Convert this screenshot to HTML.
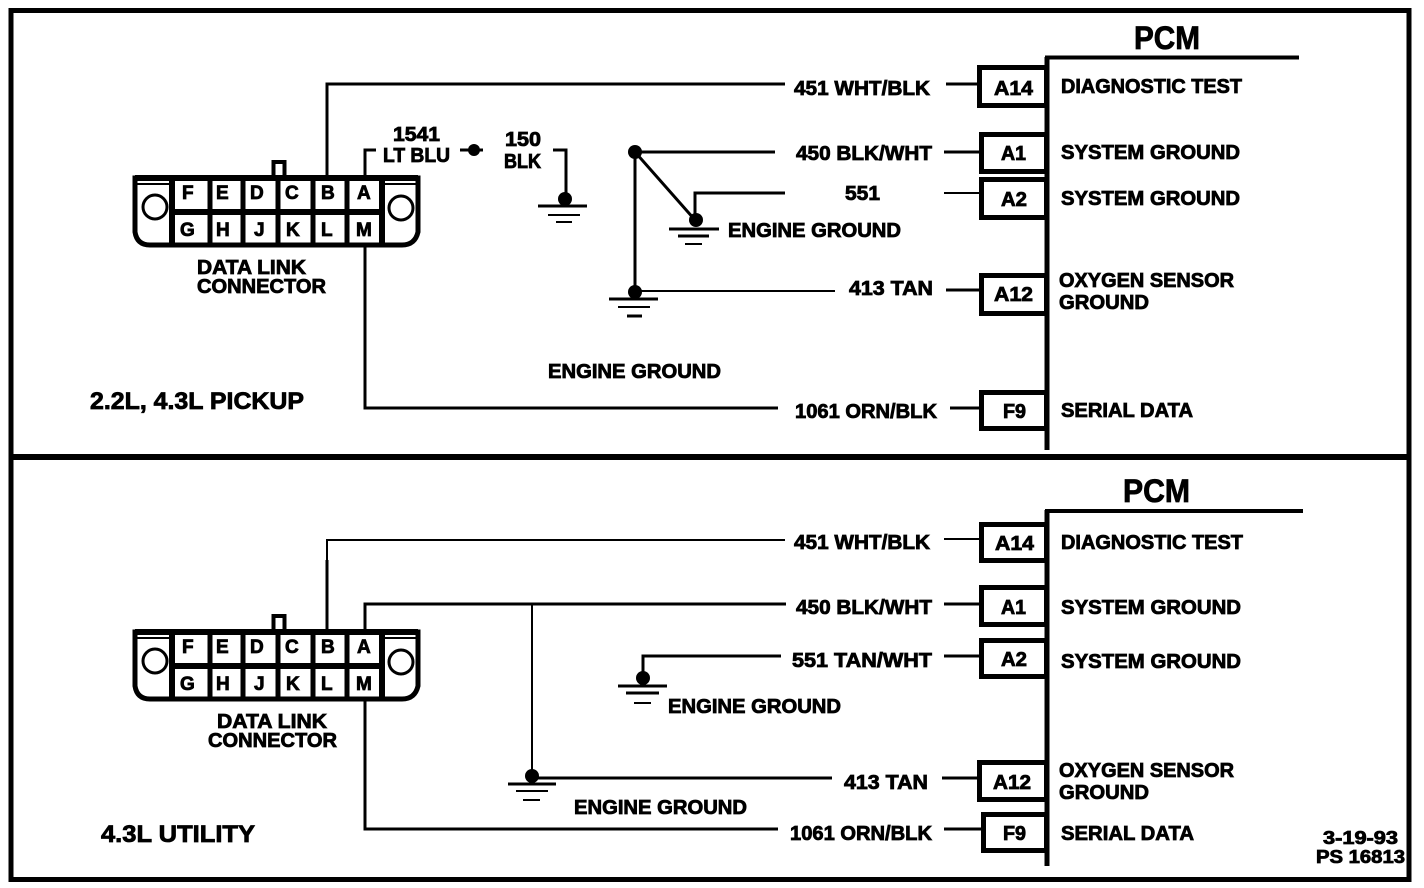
<!DOCTYPE html>
<html><head><meta charset="utf-8">
<style>
html,body{margin:0;padding:0;background:#fff}
svg{display:block}
text{font-family:"Liberation Sans",sans-serif;font-weight:bold;font-size:20px;fill:#000;stroke:#000;stroke-width:.8;transform:translateY(-1px)}
.p{font-size:19px}
.h{font-size:32px}
.t{font-size:24px}
.s{font-size:18px}
.w{fill:none;stroke:#000;stroke-width:3}
.n{fill:none;stroke:#000;stroke-width:2}
.b{fill:#fff;stroke:#000;stroke-width:5}
</style></head>
<body>
<svg width="1424" height="888" viewBox="0 0 1424 888" xmlns="http://www.w3.org/2000/svg">
<rect width="1424" height="888" fill="#fff"/>
<!-- frame -->
<rect x="11" y="10.5" width="1398" height="869" fill="none" stroke="#000" stroke-width="5"/>
<rect x="9" y="454" width="1400" height="6" fill="#000"/>

<!-- TOP connector -->
<g>
<path class="w" d="M327 178V84H785M365 178V150H376M365 245V408H778"/>
<path d="M273.500 176V162H284.500V176" fill="none" stroke="#000" stroke-width="4"/>
<path d="M135 178H418V232Q415 245 402 245H150Q137 245 135 232Z" fill="#fff" stroke="#000" stroke-width="5"/>
<rect x="135" y="175" width="283" height="6" fill="#000"/>
<path class="n" d="M137 184H172M382 184H418"/>
<path d="M172 178V245M382 178V245" stroke="#000" stroke-width="6" fill="none"/>
<path d="M210 178V245M243 178V245M278 178V245M313 178V245M347 178V245" stroke="#000" stroke-width="5" fill="none"/>
<rect x="172" y="209" width="210" height="6" fill="#000"/>
<circle cx="155" cy="207" r="12" fill="#fff" stroke="#000" stroke-width="3"/>
<circle cx="401" cy="208" r="12" fill="#fff" stroke="#000" stroke-width="3"/>
<text class="p" x="182" y="200">F</text><text class="p" x="216" y="200">E</text><text class="p" x="250" y="200">D</text><text class="p" x="285" y="200">C</text><text class="p" x="321" y="200">B</text><text class="p" x="357" y="200">A</text>
<text class="p" x="180" y="237">G</text><text class="p" x="216" y="237">H</text><text class="p" x="254" y="237">J</text><text class="p" x="286" y="237">K</text><text class="p" x="321" y="237">L</text><text class="p" x="356" y="237">M</text>
</g>
<text x="197" y="275" textLength="109" lengthAdjust="spacingAndGlyphs">DATA LINK</text>
<text x="197" y="294" textLength="129" lengthAdjust="spacingAndGlyphs">CONNECTOR</text>
<text class="t" x="90" y="410" textLength="214" lengthAdjust="spacingAndGlyphs">2.2L, 4.3L PICKUP</text>

<text x="393" y="142" textLength="47" lengthAdjust="spacingAndGlyphs">1541</text>
<text x="383" y="163" textLength="67" lengthAdjust="spacingAndGlyphs">LT BLU</text>
<path class="w" d="M460 150H483"/><circle cx="474" cy="150" r="6"/>
<text x="505" y="147" textLength="36" lengthAdjust="spacingAndGlyphs">150</text>
<text x="504" y="169" textLength="37" lengthAdjust="spacingAndGlyphs">BLK</text>
<path class="w" d="M553 150H566V198"/><circle cx="565" cy="199" r="7"/>
<path class="w" d="M538 206H587"/><path class="n" d="M548 215H580M556 222H572"/>

<path class="w" d="M635 152H775M635 152V292M635 152L695 220"/>
<circle cx="635" cy="152" r="7"/>
<path class="w" d="M695 220V193H785"/>
<circle cx="696" cy="220" r="7"/>
<path class="w" d="M669 229H719M678 236H709"/><path class="n" d="M685 244H702"/>
<circle cx="635" cy="292" r="7"/>
<path class="n" d="M635 291H835"/>
<path class="w" d="M609 299H658"/><path class="n" d="M618 307H650"/><path class="w" d="M627 316H642"/>

<text x="794" y="96" textLength="136" lengthAdjust="spacingAndGlyphs">451 WHT/BLK</text>
<text x="796" y="161" textLength="136" lengthAdjust="spacingAndGlyphs">450 BLK/WHT</text>
<text x="845" y="201" textLength="35" lengthAdjust="spacingAndGlyphs">551</text>
<text x="728" y="238" textLength="173" lengthAdjust="spacingAndGlyphs">ENGINE GROUND</text>
<text x="849" y="296" textLength="84" lengthAdjust="spacingAndGlyphs">413 TAN</text>
<text x="548" y="379" textLength="173" lengthAdjust="spacingAndGlyphs">ENGINE GROUND</text>
<text x="795" y="419" textLength="142" lengthAdjust="spacingAndGlyphs">1061 ORN/BLK</text>

<!-- TOP PCM -->
<text class="h" x="1134" y="50" textLength="66" lengthAdjust="spacingAndGlyphs">PCM</text>
<path d="M1045 57.500H1299" stroke="#000" stroke-width="4" fill="none"/>
<path d="M1047 57V450" stroke="#000" stroke-width="5" fill="none"/>
<path class="w" d="M946 84H977M944 152H979M946 290H979M950 408H979"/><path class="n" d="M944 193H979"/>
<rect class="b" x="979.500" y="67.500" width="67" height="38"/>
<rect class="b" x="981.500" y="134.500" width="65" height="37"/>
<rect class="b" x="981.500" y="179.500" width="65" height="38"/>
<rect class="b" x="981.500" y="275.500" width="65" height="38"/>
<rect class="b" x="981.500" y="392.500" width="65" height="36"/>
<text x="994" y="96" textLength="39" lengthAdjust="spacingAndGlyphs">A14</text>
<text x="1001" y="161" textLength="25" lengthAdjust="spacingAndGlyphs">A1</text>
<text x="1001" y="207" textLength="26" lengthAdjust="spacingAndGlyphs">A2</text>
<text x="994" y="302" textLength="39" lengthAdjust="spacingAndGlyphs">A12</text>
<text x="1003" y="419" textLength="23" lengthAdjust="spacingAndGlyphs">F9</text>
<text x="1061" y="94" textLength="181" lengthAdjust="spacingAndGlyphs">DIAGNOSTIC TEST</text>
<text x="1061" y="160" textLength="179" lengthAdjust="spacingAndGlyphs">SYSTEM GROUND</text>
<text x="1061" y="206" textLength="179" lengthAdjust="spacingAndGlyphs">SYSTEM GROUND</text>
<text x="1059" y="288" textLength="175" lengthAdjust="spacingAndGlyphs">OXYGEN SENSOR</text>
<text x="1059" y="310" textLength="90" lengthAdjust="spacingAndGlyphs">GROUND</text>
<text x="1061" y="418" textLength="132" lengthAdjust="spacingAndGlyphs">SERIAL DATA</text>

<!-- BOTTOM connector -->
<path class="n" d="M327 632V540H785"/>
<path class="w" d="M327 632V560M365 630V604H786M365 699V829H778"/>
<g transform="translate(0,454)">
<path d="M273.500 176V162H284.500V176" fill="none" stroke="#000" stroke-width="4"/>
<path d="M135 178H418V232Q415 245 402 245H150Q137 245 135 232Z" fill="#fff" stroke="#000" stroke-width="5"/>
<rect x="135" y="175" width="283" height="6" fill="#000"/>
<path class="n" d="M137 184H172M382 184H418"/>
<path d="M172 178V245M382 178V245" stroke="#000" stroke-width="6" fill="none"/>
<path d="M210 178V245M243 178V245M278 178V245M313 178V245M347 178V245" stroke="#000" stroke-width="5" fill="none"/>
<rect x="172" y="209" width="210" height="6" fill="#000"/>
<circle cx="155" cy="207" r="12" fill="#fff" stroke="#000" stroke-width="3"/>
<circle cx="401" cy="208" r="12" fill="#fff" stroke="#000" stroke-width="3"/>
<text class="p" x="182" y="200">F</text><text class="p" x="216" y="200">E</text><text class="p" x="250" y="200">D</text><text class="p" x="285" y="200">C</text><text class="p" x="321" y="200">B</text><text class="p" x="357" y="200">A</text>
<text class="p" x="180" y="237">G</text><text class="p" x="216" y="237">H</text><text class="p" x="254" y="237">J</text><text class="p" x="286" y="237">K</text><text class="p" x="321" y="237">L</text><text class="p" x="356" y="237">M</text>
</g>
<text x="217" y="729" textLength="110" lengthAdjust="spacingAndGlyphs">DATA LINK</text>
<text x="208" y="748" textLength="129" lengthAdjust="spacingAndGlyphs">CONNECTOR</text>
<text class="t" x="101" y="843" textLength="154" lengthAdjust="spacingAndGlyphs">4.3L UTILITY</text>

<path class="n" d="M532 604V776"/>
<circle cx="532" cy="776" r="7"/>
<path class="w" d="M532 778H832"/>
<path class="w" d="M508 784H556"/><path class="n" d="M516 791H548"/><path class="n" d="M523 800H540"/>

<path class="w" d="M643 678V656H781"/><circle cx="643" cy="678" r="7"/>
<path d="M618 686H667M626 693H659" stroke="#000" stroke-width="3" fill="none"/><path class="n" d="M634 703H651"/>

<text x="794" y="550" textLength="136" lengthAdjust="spacingAndGlyphs">451 WHT/BLK</text>
<text x="796" y="615" textLength="136" lengthAdjust="spacingAndGlyphs">450 BLK/WHT</text>
<text x="792" y="668" textLength="140" lengthAdjust="spacingAndGlyphs">551 TAN/WHT</text>
<text x="668" y="714" textLength="173" lengthAdjust="spacingAndGlyphs">ENGINE GROUND</text>
<text x="844" y="790" textLength="84" lengthAdjust="spacingAndGlyphs">413 TAN</text>
<text x="574" y="815" textLength="173" lengthAdjust="spacingAndGlyphs">ENGINE GROUND</text>
<text x="790" y="841" textLength="142" lengthAdjust="spacingAndGlyphs">1061 ORN/BLK</text>

<!-- BOTTOM PCM -->
<text class="h" x="1123" y="503" textLength="67" lengthAdjust="spacingAndGlyphs">PCM</text>
<path d="M1045 511H1303" stroke="#000" stroke-width="4" fill="none"/>
<path d="M1047 510V866" stroke="#000" stroke-width="5" fill="none"/>
<path class="w" d="M944 604H979M944 656H979M942 778H977M944 829H981"/><path class="n" d="M944 539H979"/>
<rect class="b" x="981.500" y="524.500" width="65" height="36"/>
<rect class="b" x="981.500" y="587.500" width="65" height="37"/>
<rect class="b" x="981.500" y="640.500" width="65" height="36"/>
<rect class="b" x="979.500" y="762.500" width="67" height="37"/>
<rect class="b" x="983.500" y="814.500" width="63" height="36"/>
<text x="995" y="551" textLength="39" lengthAdjust="spacingAndGlyphs">A14</text>
<text x="1001" y="615" textLength="25" lengthAdjust="spacingAndGlyphs">A1</text>
<text x="1001" y="667" textLength="26" lengthAdjust="spacingAndGlyphs">A2</text>
<text x="993" y="790" textLength="38" lengthAdjust="spacingAndGlyphs">A12</text>
<text x="1003" y="841" textLength="23" lengthAdjust="spacingAndGlyphs">F9</text>
<text x="1061" y="550" textLength="182" lengthAdjust="spacingAndGlyphs">DIAGNOSTIC TEST</text>
<text x="1061" y="615" textLength="180" lengthAdjust="spacingAndGlyphs">SYSTEM GROUND</text>
<text x="1061" y="669" textLength="180" lengthAdjust="spacingAndGlyphs">SYSTEM GROUND</text>
<text x="1059" y="778" textLength="175" lengthAdjust="spacingAndGlyphs">OXYGEN SENSOR</text>
<text x="1059" y="800" textLength="90" lengthAdjust="spacingAndGlyphs">GROUND</text>
<text x="1061" y="841" textLength="133" lengthAdjust="spacingAndGlyphs">SERIAL DATA</text>
<text class="s" x="1323" y="845" textLength="75" lengthAdjust="spacingAndGlyphs">3-19-93</text>
<text class="s" x="1316" y="864" textLength="89" lengthAdjust="spacingAndGlyphs">PS 16813</text>
</svg>
</body></html>
